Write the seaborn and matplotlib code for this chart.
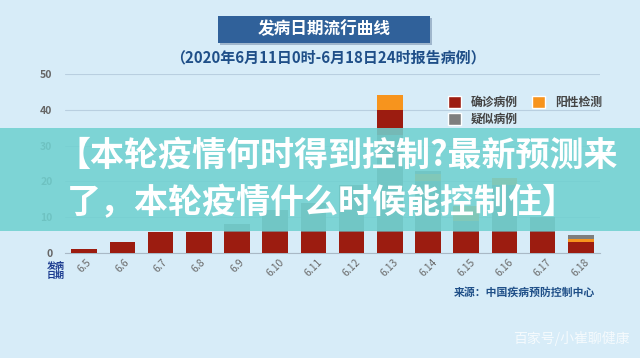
import matplotlib
matplotlib.use("Agg")
import matplotlib.pyplot as plt
from matplotlib.patches import Rectangle, Patch
import seaborn as sns
import pandas as pd

# ---- data ----
dates = ['6.5', '6.6', '6.7', '6.8', '6.9', '6.10', '6.11', '6.12', '6.13',
         '6.14', '6.15', '6.16', '6.17', '6.18']
confirmed = [1, 3, 6, 6, 6, 6, 6, 6, 6, 6, 6, 6, 6, 3]
positive_low = [0, 0, 0, 0, 0, 0, 0, 0, 0, 0, 0, 0, 0, 1]
suspected = [0, 0, 0, 0, 2, 6, 8, 13, 27, 14, 3, 13, 4, 1]
positive_mid = [0, 0, 0, 0, 0, 0, 0, 0, 0, 2, 4, 2, 0, 0]
suspected_top = [0, 0, 0, 0, 0, 0, 0, 0, 0, 1, 0, 0, 0, 0]
confirmed_top = [0, 0, 0, 0, 0, 0, 0, 0, 7, 0, 0, 0, 0, 0]
positive_top = [0, 0, 0, 0, 0, 0, 0, 0, 4, 0, 0, 0, 0, 0]
legend_labels = ['确诊病例', '疑似病例', '阳性检测']
yticks = [0, 10, 20, 30, 40, 50]

title = '发病日期流行曲线'
subtitle = '（2020年6月11日0时-6月18日24时报告病例）'
source = '来源：中国疾病预防控制中心'
banner1 = '【本轮疫情何时得到控制?最新预测来'
banner2 = '了，本轮疫情什么时候能控制住】'
watermark = '百家号/小崔聊健康'

sns.set_style("white")
plt.rcParams['font.family'] = ['Noto Sans CJK SC', 'DejaVu Sans']

C_RED = '#9c1c10'
C_ORA = '#f7941d'
C_GRAY = '#7e7e7e'
BG = '#d7ecf8'
NAVY = '#1f4f88'

layers = [
    (confirmed, C_RED),
    (positive_low, C_ORA),
    (suspected, C_GRAY),
    (positive_mid, C_ORA),
    (suspected_top, C_GRAY),
    (confirmed_top, C_RED),
    (positive_top, C_ORA),
]

W, H = 640, 358
fig = plt.figure(figsize=(6.4, 3.58), dpi=100)
fig.patch.set_facecolor(BG)
ax = fig.add_axes([65 / W, 1 - 253 / H, 535 / W, (253 - 74) / H])
ax.set_facecolor(BG)

bottom = [0] * len(dates)
for vals, col in layers:
    df = pd.DataFrame({'date': dates, 'v': vals})
    sns.barplot(data=df, x='date', y='v', color=col, width=0.67,
                bottom=bottom, saturation=1, ax=ax, linewidth=0, zorder=3)
    bottom = [b + v for b, v in zip(bottom, vals)]

ax.set_xlim(-0.5, len(dates) - 0.5)
ax.set_ylim(0, 50)
ax.set_yticks(yticks)
ax.set_yticklabels([str(t) for t in yticks], fontsize=7.5, color='#666666',
                   fontweight='bold')
ax.tick_params(axis='y', length=0, pad=9)
ax.tick_params(axis='x', length=0, pad=3)
ax.set_xticks(range(len(dates)))
ax.set_xticklabels(dates, rotation=45, fontsize=7.5, color='#6a6a6a',
                   ha='center', va='top')
ax.set_xlabel('')
ax.set_ylabel('')
ax.grid(axis='y', color='#b9cfe0', linewidth=0.8, zorder=0)
ax.set_axisbelow(True)
for s in ['top', 'right', 'left']:
    ax.spines[s].set_visible(False)
ax.spines['bottom'].set_color('#a9b9c6')
ax.spines['bottom'].set_linewidth(0.8)

handles = [Patch(facecolor=C_RED), Patch(facecolor=C_GRAY), Patch(facecolor=C_ORA)]
leg = ax.legend(handles, legend_labels, ncol=2, loc='upper left',
                bbox_to_anchor=(443 / W, 1 - 91 / H), bbox_transform=fig.transFigure,
                frameon=False, prop={'size': 8.5, 'weight': 'bold'},
                handlelength=1.15, handleheight=1.15, handletextpad=0.8,
                columnspacing=1.2, labelspacing=0.35, borderaxespad=0)
for t in leg.get_texts():
    t.set_color('#444444')

# title box
fig.patches.append(Rectangle((220 / W, 1 - 45 / H), 212 / W, 27 / H,
                             transform=fig.transFigure, facecolor='#9fb6cc',
                             edgecolor='none', zorder=1))
fig.patches.append(Rectangle((218 / W, 1 - 43 / H), 212 / W, 27 / H,
                             transform=fig.transFigure, facecolor='#30619a',
                             edgecolor='none', zorder=2))
fig.text(324 / W, 1 - 29.5 / H, title, color='white', fontsize=12,
         fontweight='bold', ha='center', va='center', zorder=3)
fig.text(328 / W, 1 - 57 / H, subtitle, color=NAVY, fontsize=10.8,
         fontweight='bold', ha='center', va='center')

fig.text(56 / W, 1 - 271 / H, '发病\n日期', color='#1a3a8f', fontsize=6.5,
         fontweight='bold', ha='center', va='center', linespacing=1.1)
fig.text(595 / W, 1 - 292 / H, source, color=NAVY, fontsize=7.8,
         fontweight='bold', ha='right', va='center')

# overlay banner
fig.patches.append(Rectangle((0, 1 - 231 / H), 1, 103 / H, transform=fig.transFigure,
                             facecolor='#70d1d0', edgecolor='none', alpha=0.87,
                             zorder=10))
fig.text(337 / W, 1 - 155 / H, banner1, color='white', fontsize=24.5,
         fontweight='bold', ha='center', va='center', zorder=11)
fig.text(322 / W, 1 - 203 / H, banner2, color='white', fontsize=24.5,
         fontweight='bold', ha='center', va='center', zorder=11)

fig.text(630 / W, 1 - 338 / H, watermark, color='white', alpha=0.75,
         fontsize=10, ha='right', va='center', zorder=11)

fig.savefig('out.png', dpi=100, facecolor=BG)
